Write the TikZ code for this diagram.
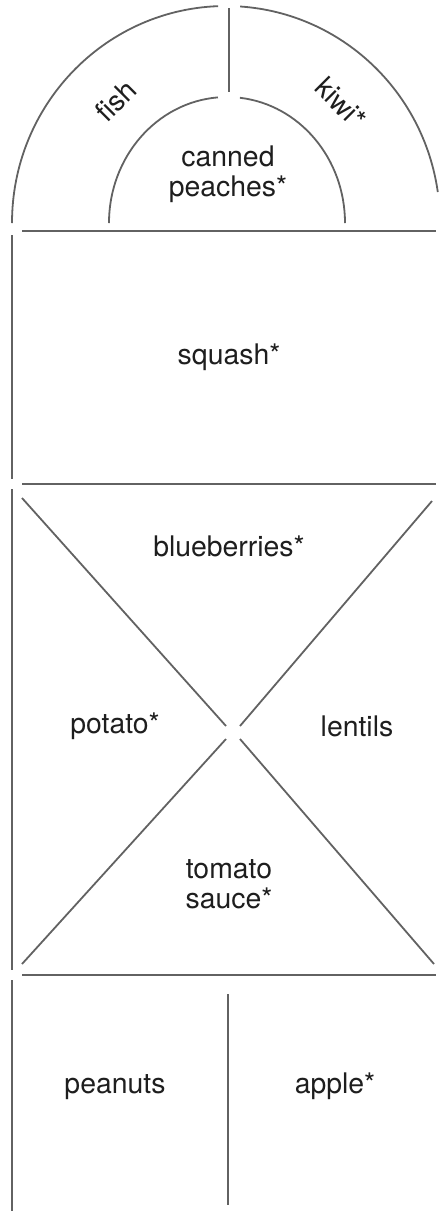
\documentclass[tikz,border=0pt]{standalone}
\usepackage{fontspec}
\setmainfont{TeX Gyre Heros}
\definecolor{linegray}{HTML}{626262}
\definecolor{textdark}{HTML}{1E1E1E}
\tikzset{
  wall/.style={draw=linegray, line width=1.8bp},
  lbl/.style={text=textdark, font=\fontsize{28.5}{30}\selectfont, align=center, inner sep=0pt}
}
\begin{document}
\begin{tikzpicture}[x=1bp,y=-1bp]
\useasboundingbox (0,0) rectangle (441,1213);
% top arches
\draw[wall] (226,223) ++(180:214 and 217) arc[start angle=180,end angle=267.9,x radius=214,y radius=217];
\draw[wall] (226,223) ++(273.8:214 and 217) arc[start angle=273.8,end angle=351.8,x radius=214,y radius=217];
\draw[wall] (227,223) ++(180:118 and 126) arc[start angle=180,end angle=265.6,x radius=118,y radius=126];
\draw[wall] (227,223) ++(276.3:118 and 126) arc[start angle=276.3,end angle=360,x radius=118,y radius=126];
\draw[wall] (229,8) -- (229,92);
% left walls
\draw[wall] (12,235) -- (12,479);
\draw[wall] (12,489) -- (12,970);
\draw[wall] (12,980) -- (12,1211);
% horizontal walls
\draw[wall] (22,231) -- (436,231);
\draw[wall] (22,484) -- (436,484);
\draw[wall] (22,975) -- (436,975);
% diagonals
\draw[wall] (22,498) -- (226,726);
\draw[wall] (432,501) -- (240,726);
\draw[wall] (226,739) -- (22,964);
\draw[wall] (240,739) -- (434,964);
% bottom divider
\draw[wall] (228,994) -- (228,1205);
% labels
\node[lbl] (peach) at (228,174) {canned\\peaches*};
\node[lbl, rotate=45] (fish) at (116,101) {fish};
\node[lbl, rotate=-45] (kiwi) at (341,103) {kiwi*};
\node[lbl] (squash) at (229,357) {squash*};
\node[lbl] (blue) at (229,546) {blueberries*};
\node[lbl] (potato) at (115,726) {potato*};
\node[lbl] (lentils) at (357,726) {lentils};
\node[lbl] (tomato) at (229,884) {tomato\\sauce*};
\node[lbl] (peanuts) at (115,1087) {peanuts};
\node[lbl] (apple) at (335,1086) {apple*};
\end{tikzpicture}
\end{document}
